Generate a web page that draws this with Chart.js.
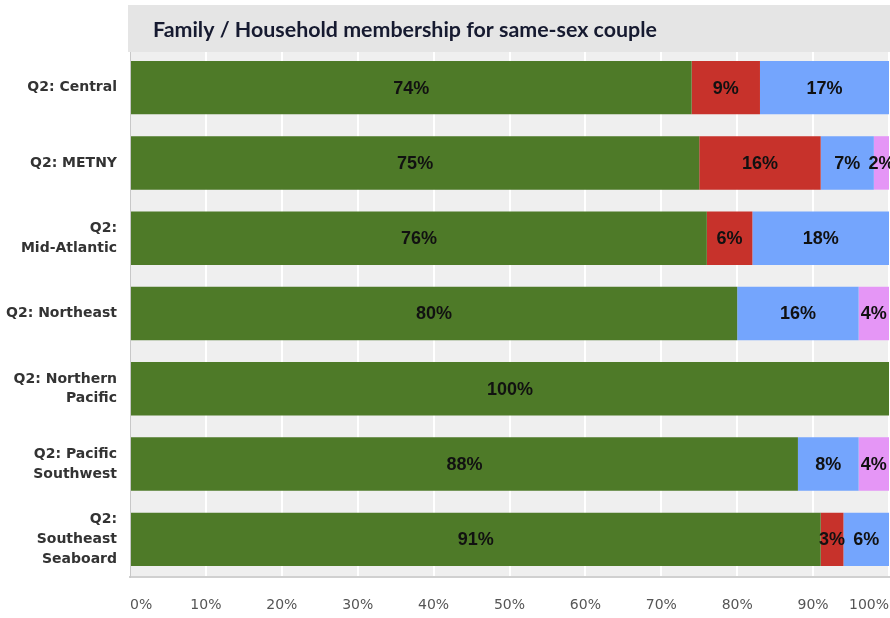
<!DOCTYPE html>
<html lang="en">
<head>
    <meta charset="UTF-8">
    <title>Family / Household membership for same-sex couple</title>
    <script src="https://cdn.jsdelivr.net/npm/chart.js"></script>
    <style>
        body {
            margin: 0;
            background: #ffffff;
        }

        .chart-container {
            position: relative;
            width: 890px;
            height: 618px;
        }
    </style>
</head>
<body>

    <div class="chart-container">
        <canvas id="membershipChart"></canvas>
    </div>

    <script>
        // Regions (multi-line labels are split into arrays)
        var regions = [
            ["Q2: Central"],
            ["Q2: METNY"],
            ["Q2:", "Mid-Atlantic"],
            ["Q2: Northeast"],
            ["Q2: Northern", "Pacific"],
            ["Q2: Pacific", "Southwest"],
            ["Q2:", "Southeast", "Seaboard"]
        ];

        // Share of responses per region (%)
        var greenValues = [74, 75, 76, 80, 100, 88, 91];
        var redValues   = [9, 16, 6, 0, 0, 0, 3];
        var blueValues  = [17, 7, 18, 16, 0, 8, 6];
        var pinkValues  = [0, 2, 0, 4, 0, 4, 0];

        var xTicks = [0, 10, 20, 30, 40, 50, 60, 70, 80, 90, 100];

        var chartTitle = "Family / Household membership for same-sex couple";

        // Grey plot background behind the bars
        var plotBackground = {
            id: "plotBackground",
            beforeDraw: function (chart) {
                var a = chart.chartArea;
                var ctx = chart.ctx;
                ctx.save();
                ctx.fillStyle = "#efefef";
                ctx.fillRect(a.left, a.top, a.right - a.left, a.bottom - a.top);
                ctx.restore();
            }
        };

        // Title band across the top
        var titleBand = {
            id: "titleBand",
            afterDraw: function (chart) {
                var ctx = chart.ctx;
                ctx.save();
                ctx.fillStyle = "#e5e5e5";
                ctx.fillRect(128, 5, 762, 47);
                ctx.fillStyle = "#161a30";
                ctx.font = "bold 21.4px Lato";
                ctx.textBaseline = "alphabetic";
                ctx.textAlign = "left";
                ctx.fillText(chartTitle, 153, 37);
                ctx.restore();
            }
        };

        // Percent labels in the middle of every segment
        var segmentLabels = {
            id: "segmentLabels",
            afterDatasetsDraw: function (chart) {
                var ctx = chart.ctx;
                ctx.save();
                ctx.font = "bold 18px 'Liberation Sans', Arial, sans-serif";
                ctx.fillStyle = "#111111";
                ctx.textAlign = "center";
                ctx.textBaseline = "middle";
                chart.data.datasets.forEach(function (ds, i) {
                    var meta = chart.getDatasetMeta(i);
                    meta.data.forEach(function (bar, j) {
                        var v = ds.data[j];
                        if (!v) return;
                        ctx.fillText(v + "%", (bar.x + bar.base) / 2, bar.y + 1);
                    });
                });
                ctx.restore();
            }
        };

        var ctx = document.getElementById("membershipChart").getContext("2d");
        var membershipChart = new Chart(ctx, {
            type: "bar",
            data: {
                labels: regions,
                datasets: [
                    { label: "Green", data: greenValues, backgroundColor: "#4e7a28" },
                    { label: "Red", data: redValues, backgroundColor: "#c7322b" },
                    { label: "Blue", data: blueValues, backgroundColor: "#74a5fd" },
                    { label: "Pink", data: pinkValues, backgroundColor: "#e596f6" }
                ]
            },
            options: {
                indexAxis: "y",
                responsive: true,
                maintainAspectRatio: false,
                animation: false,
                layout: { padding: { top: 50, left: 0, right: 1, bottom: 0 } },
                datasets: {
                    bar: { barPercentage: 0.71, categoryPercentage: 1.0, borderWidth: 0 }
                },
                plugins: {
                    legend: { display: false },
                    title: { display: false },
                    tooltip: { enabled: false }
                },
                scales: {
                    x: {
                        stacked: true,
                        min: 0,
                        max: 100,
                        afterBuildTicks: function (scale) {
                            scale.ticks = xTicks.map(function (v) { return { value: v }; });
                        },
                        afterFit: function (scale) {
                            scale.height = 41;
                            scale.paddingLeft = 0;
                            scale.paddingRight = 0;
                        },
                        grid: { color: "#ffffff", lineWidth: 2, drawTicks: false },
                        border: { display: true, color: "#d0d0d0", width: 2 },
                        ticks: {
                            align: "inner",
                            padding: 20,
                            color: "#555555",
                            font: { family: "'DejaVu Sans'", size: 14 },
                            callback: function (v) { return v + "%"; }
                        }
                    },
                    y: {
                        stacked: true,
                        afterFit: function (scale) { scale.width = 130; },
                        grid: { display: false, drawTicks: false },
                        border: { display: true, color: "#c8c8c8", width: 1 },
                        ticks: {
                            padding: 13,
                            color: "#333333",
                            font: { family: "'DejaVu Sans'", size: 14, weight: "bold", lineHeight: 1.4 }
                        }
                    }
                }
            },
            plugins: [plotBackground, segmentLabels, titleBand]
        });
    </script>

</body>
</html>
